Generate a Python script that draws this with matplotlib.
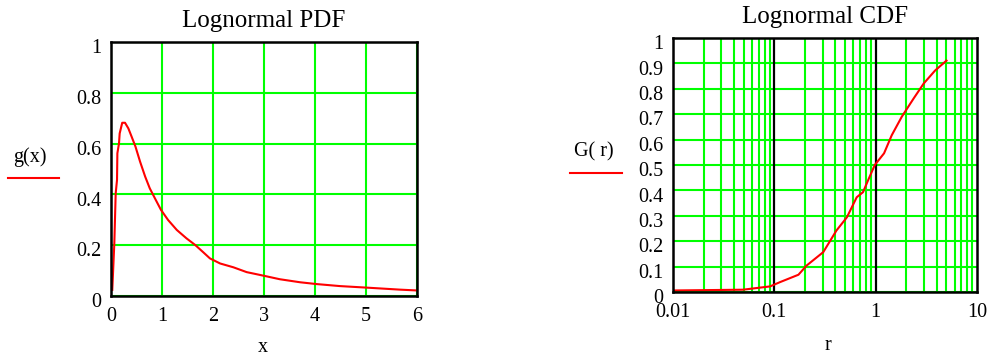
import matplotlib.pyplot as plt
import matplotlib.transforms as mtransforms
from matplotlib.lines import Line2D
from matplotlib.ticker import FixedLocator, NullFormatter

plt.rcParams['font.family'] = ['Liberation Serif', 'DejaVu Serif']

# lognormal density g(x)
pdf_x = [0.025, 0.065, 0.092, 0.118, 0.125, 0.157, 0.17, 0.22, 0.275, 0.34, 0.405,
         0.48, 0.57, 0.67, 0.76, 0.86, 0.98, 1.12, 1.29, 1.48, 1.65, 1.81, 1.94,
         2.14, 2.40, 2.66, 2.99, 3.31, 3.71, 4.03, 4.49, 5.01, 5.67, 5.98]
pdf_g = [0.024, 0.207, 0.404, 0.457, 0.562, 0.601, 0.640, 0.682, 0.682, 0.660, 0.627,
         0.588, 0.529, 0.470, 0.424, 0.385, 0.339, 0.299, 0.260, 0.227, 0.201, 0.172, 0.148,
         0.128, 0.113, 0.094, 0.080, 0.066, 0.054, 0.047, 0.039, 0.033, 0.025, 0.022]

# lognormal distribution G(r)
cdf_r = [0.01, 0.049, 0.0907, 0.114, 0.173, 0.208, 0.304, 0.41, 0.52, 0.65, 0.75,
         0.84, 0.98, 1.21, 1.44, 1.81, 2.37, 2.98, 3.86, 5.0]
cdf_G = [0.006, 0.009, 0.022, 0.039, 0.068, 0.104, 0.157, 0.242, 0.294, 0.373, 0.393,
         0.439, 0.50, 0.546, 0.617, 0.69, 0.762, 0.821, 0.872, 0.911]

x_ticks = [0, 1, 2, 3, 4, 5, 6]
x_labels = ['0', '1', '2', '3', '4', '5', '6']
g_ticks = [0, 0.2, 0.4, 0.6, 0.8, 1]
g_labels = ['0', '0.2', '0.4', '0.6', '0.8', '1']
r_ticks = [0.01, 0.1, 1, 10]
r_labels = ['0.01', '0.1', '1', '10']
G_ticks = [0, 0.1, 0.2, 0.3, 0.4, 0.5, 0.6, 0.7, 0.8, 0.9, 1]
G_labels = ['0', '0.1', '0.2', '0.3', '0.4', '0.5', '0.6', '0.7', '0.8', '0.9', '1']

W, H = 992, 358
fig = plt.figure(figsize=(W / 100, H / 100), dpi=100)


def box(l, t, r, b):
    return [l / W, 1 - b / H, (r - l) / W, (b - t) / H]


GREEN = '#00ff00'
RED = '#ff0000'


def style(ax):
    for s in ax.spines.values():
        s.set_linewidth(1.8)
        s.set_color('black')
        s.set_zorder(5)
    ax.tick_params(which='both', length=0, labelsize=14.5)
    ax.tick_params(axis='y', pad=7)
    ax.tick_params(axis='x', pad=8)
    ax.set_axisbelow(True)


def shift_ylabels(ax, dy):
    off = mtransforms.ScaledTranslation(0, dy / 72, fig.dpi_scale_trans)
    for lab in ax.get_yticklabels():
        lab.set_transform(lab.get_transform() + off)


# left panel: PDF
ax1 = fig.add_axes(box(111, 42, 417, 296))
ax1.plot(pdf_x, pdf_g, color=RED, lw=1.5, zorder=3)
ax1.set_xlim(0, 6)
ax1.set_ylim(0, 1)
ax1.set_xticks(x_ticks)
ax1.set_xticklabels(x_labels)
ax1.set_yticks(g_ticks)
ax1.set_yticklabels(g_labels)
ax1.grid(True, color=GREEN, lw=1.5)
style(ax1)
shift_ylabels(ax1, -3)
ax1.set_title('Lognormal PDF', fontsize=18, pad=11)

# right panel: CDF on log axis
ax2 = fig.add_axes(box(673, 38, 977, 292))
ax2.set_xscale('log')
ax2.plot(cdf_r, cdf_G, color=RED, lw=1.5, zorder=3)
ax2.set_xlim(0.01, 10)
ax2.set_ylim(0, 1)
ax2.set_xticks(r_ticks)
ax2.set_xticklabels(r_labels)
ax2.xaxis.set_minor_locator(FixedLocator([m * d for d in (0.01, 0.1, 1) for m in range(2, 10)]))
ax2.xaxis.set_minor_formatter(NullFormatter())
ax2.set_yticks(G_ticks)
ax2.set_yticklabels(G_labels)
ax2.grid(True, axis='y', color=GREEN, lw=1.5)
ax2.grid(True, axis='x', which='minor', color=GREEN, lw=1.5)
for d in (0.1, 1):
    ax2.axvline(d, color='black', lw=1.6, zorder=2)
style(ax2)
shift_ylabels(ax2, -3)
ax2.set_title('Lognormal CDF', fontsize=18, pad=11)

# axis names and trace keys
fig.text(30 / W, 1 - 157 / H, 'g(x)', fontsize=14.5, ha='center', va='center')
fig.add_artist(Line2D([8 / W, 59 / W], [1 - 178 / H] * 2, color=RED, lw=1.5))
fig.text(263 / W, 1 - 348 / H, 'x', fontsize=14.5, ha='center', va='center')

fig.text(594 / W, 1 - 152 / H, 'G( r)', fontsize=14.5, ha='center', va='center')
fig.add_artist(Line2D([570 / W, 622 / W], [1 - 173 / H] * 2, color=RED, lw=1.5))
fig.text(828 / W, 1 - 345 / H, 'r', fontsize=14.5, ha='center', va='center')

fig.savefig('out.png', dpi=100)
